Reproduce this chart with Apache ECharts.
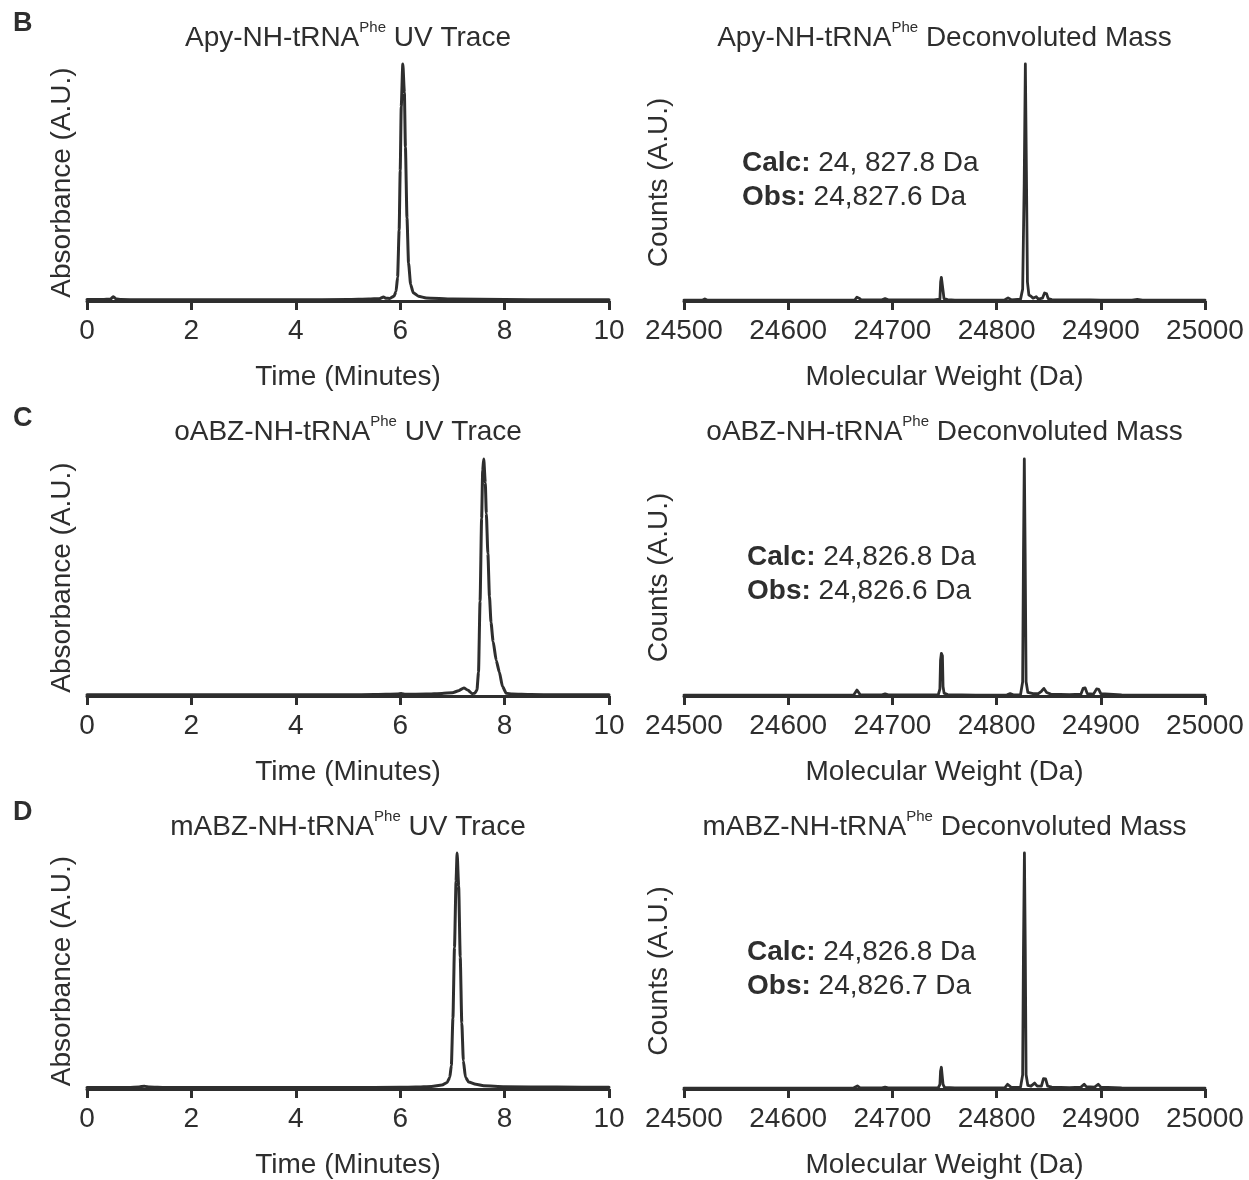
<!DOCTYPE html>
<html><head><meta charset="utf-8">
<script src="https://cdn.jsdelivr.net/npm/echarts@6/dist/echarts.min.js"></script>
<style>html,body{margin:0;padding:0;background:#fff}#c{width:1249px;height:1180px}</style>
</head><body><div id="c"></div>
<script>
// ---------- data ----------
const panelLetters = ['B', 'C', 'D'];
const compounds = ['Apy', 'oABZ', 'mABZ'];
const calcMass = ['24, 827.8 Da', '24,826.8 Da', '24,826.8 Da'];
const obsMass = ['24,827.6 Da', '24,826.6 Da', '24,826.7 Da'];
const timeTicks = [0, 2, 4, 6, 8, 10];
const massTicks = [24500, 24600, 24700, 24800, 24900, 25000];

// UV traces: [time (min), absorbance (A.U., % of max)]
const uvApy = [[0,0.6],[0.3,0.6],[0.45,0.8],[0.5,1.8],[0.55,1.0],[0.65,0.6],[1,0.5],[2,0.5],[3,0.5],[4,0.5],[5,0.6],[5.4,0.8],[5.6,1.0],[5.68,1.7],[5.72,1.2],[5.8,1.1],[5.88,2.0],[5.92,4],[5.95,10],[5.98,30],[6.0,55],[6.02,82],[6.05,100],[6.08,88],[6.1,65],[6.13,35],[6.16,16],[6.2,7],[6.25,3.5],[6.35,2],[6.5,1.3],[7,0.8],[8,0.6],[9,0.5],[10,0.5]];
const uvOABZ = [[0,0.5],[1,0.5],[2,0.5],[3,0.5],[4,0.5],[5,0.5],[5.5,0.6],[5.95,0.8],[6.02,1.1],[6.1,0.7],[6.5,0.8],[6.8,1.1],[7.0,1.4],[7.12,2.2],[7.22,3.4],[7.3,2.4],[7.38,1.0],[7.43,1.2],[7.47,2.5],[7.5,10],[7.53,40],[7.56,75],[7.58,95],[7.6,100],[7.63,90],[7.65,77],[7.68,60],[7.71,42],[7.74,31],[7.78,23],[7.84,15],[7.9,10],[7.96,4],[8.03,1.2],[8.15,0.8],[8.5,0.6],[9,0.5],[10,0.5]];
const uvMABZ = [[0,0.6],[0.8,0.6],[1.0,0.9],[1.1,1.2],[1.2,0.8],[1.5,0.6],[3,0.6],[5,0.6],[6.0,0.7],[6.3,0.8],[6.6,1.1],[6.8,1.7],[6.9,2.8],[6.95,5],[6.98,10],[7.01,30],[7.04,60],[7.07,88],[7.09,100],[7.12,86],[7.15,56],[7.18,28],[7.21,12],[7.25,5],[7.31,3],[7.45,2],[7.6,1.4],[8,1],[9,0.8],[10,0.7]];

// Deconvoluted mass spectra: [molecular weight (Da), counts (% of max)]
const msApy = [[24500,0.4],[24518,0.4],[24520,0.9],[24522,0.4],[24580,0.4],[24640,0.4],[24664,0.5],[24666,1.6],[24668,1.2],[24670,0.5],[24690,0.5],[24693,1.0],[24696,0.5],[24740,0.5],[24745.6,0.8],[24746.3,8],[24747,10],[24748,10],[24748.7,4],[24749.5,1],[24753,0.6],[24760,0.4],[24790,0.4],[24808,0.5],[24811,1.3],[24814,0.5],[24823,0.8],[24825,5],[24826.5,50],[24827.6,100],[24828.6,55],[24829.6,8],[24831,2.5],[24833,2],[24835,1.2],[24838,1.8],[24840,0.8],[24844,1.2],[24846,3.4],[24848,3],[24849.5,1],[24853,0.6],[24870,0.5],[24890,0.5],[24900,0.4],[24930,0.4],[24935,0.7],[24940,0.4],[25000,0.4]];
const msOABZ = [[24500,0.4],[24560,0.4],[24663,0.5],[24666,2.5],[24669,0.6],[24690,0.5],[24693,0.9],[24696,0.5],[24744,0.5],[24745.6,3],[24746.2,15],[24747,18],[24748,17],[24748.6,4],[24749.6,1.2],[24753,0.6],[24780,0.4],[24810,0.5],[24813,1],[24816,0.5],[24823,0.6],[24825,6],[24825.8,60],[24826.6,100],[24827.4,60],[24828.3,6],[24830,1.5],[24835,1],[24840,1],[24843,2],[24845.4,3.2],[24848,1.5],[24852,0.8],[24870,0.6],[24881,0.8],[24883,3.2],[24885,3.4],[24887,1],[24893,0.8],[24896,3],[24898,2.8],[24900,1],[24920,0.5],[25000,0.4]];
const msMABZ = [[24500,0.4],[24600,0.4],[24663,0.5],[24666.4,1.3],[24669,0.5],[24690,0.5],[24693,0.8],[24696,0.5],[24744,0.5],[24745.6,2],[24746.2,7.5],[24747,9.2],[24748,8.8],[24748.6,2],[24750,0.7],[24760,0.5],[24808,0.6],[24810.5,2],[24812,2.1],[24814,0.7],[24823,0.8],[24825,6],[24825.8,60],[24826.7,100],[24827.5,60],[24828.3,6],[24830,1.5],[24833,1.2],[24836.5,2.5],[24839,1.2],[24843,1.2],[24845,4.4],[24847,4.3],[24849,1.2],[24853,0.8],[24870,0.6],[24881,0.8],[24884,2],[24886,1],[24894,0.8],[24897.5,2],[24900,0.8],[24920,0.5],[25000,0.4]];

const uvData = [uvApy, uvOABZ, uvMABZ];
const msData = [msApy, msOABZ, msMABZ];

// ---------- layout ----------
const INK = '#2e2e2e';
const FONT = '"Liberation Sans", Arial, Helvetica, sans-serif';
const rowBottoms = [301, 696, 1090];
const plotH = 237;
const leftGrid = {left: 87, width: 522};
const rightGrid = {left: 684, width: 521};

const grids = [], xAxes = [], yAxes = [], series = [], graphics = [];

function axisX(gi, min, max, interval, name) {
  return {
    type: 'value', gridIndex: gi, min: min, max: max, interval: interval,
    name: name, nameLocation: 'middle', nameGap: 62,
    nameTextStyle: {fontFamily: FONT, fontSize: 28, color: INK},
    axisLine: {show: true, onZero: false, lineStyle: {color: INK, width: 3}},
    axisTick: {show: true, inside: false, length: 9, lineStyle: {color: INK, width: 3}},
    axisLabel: {fontFamily: FONT, fontSize: 28, color: INK, margin: 16,
      formatter: function (v) { return String(v); }},
    splitLine: {show: false}
  };
}
function axisY(gi, name) {
  return {
    type: 'value', gridIndex: gi, min: 0, max: 100,
    name: name, nameLocation: 'middle', nameGap: 11,
    nameTextStyle: {fontFamily: FONT, fontSize: 28, color: INK},
    axisLine: {show: false}, axisTick: {show: false}, axisLabel: {show: false},
    splitLine: {show: false}
  };
}
function titleText(cx, cy, compound, suffix) {
  return {
    type: 'text', x: cx, y: cy, silent: true,
    style: {
      text: '{m|' + compound + '-NH-tRNA}{s|Phe}{m| ' + suffix + '}',
      textAlign: 'center', textVerticalAlign: 'middle',
      rich: {
        m: {fontFamily: FONT, fontSize: 28, fill: INK, color: INK, lineHeight: 32, verticalAlign: 'bottom'},
        s: {fontFamily: FONT, fontSize: 15, fill: INK, color: INK, lineHeight: 28, verticalAlign: 'top'}
      }
    }
  };
}

for (let r = 0; r < 3; r++) {
  const bottomPx = rowBottoms[r];
  const topPx = bottomPx - plotH;
  grids.push({left: leftGrid.left, width: leftGrid.width, top: topPx, height: plotH});
  grids.push({left: rightGrid.left, width: rightGrid.width, top: topPx, height: plotH});
  const gL = 2 * r, gR = 2 * r + 1;
  xAxes.push(axisX(gL, timeTicks[0], timeTicks[timeTicks.length - 1], timeTicks[1] - timeTicks[0], 'Time (Minutes)'));
  xAxes.push(axisX(gR, massTicks[0], massTicks[massTicks.length - 1], massTicks[1] - massTicks[0], 'Molecular Weight (Da)'));
  yAxes.push(axisY(gL, 'Absorbance (A.U.)'));
  yAxes.push(axisY(gR, 'Counts (A.U.)'));
  const ls = {color: INK, width: 3, join: 'round', cap: 'round'};
  series.push({type: 'line', xAxisIndex: gL, yAxisIndex: gL, data: uvData[r], showSymbol: false, symbol: 'none', smooth: 0.2, smoothMonotone: 'x', clip: false, lineStyle: ls, itemStyle: {color: INK}, silent: true, animation: false});
  series.push({type: 'line', xAxisIndex: gR, yAxisIndex: gR, data: msData[r], showSymbol: false, symbol: 'none', smooth: false, clip: false, lineStyle: Object.assign({}, ls, {width: 2.8}), itemStyle: {color: INK}, silent: true, animation: false});

  const off = r * 394.5;
  graphics.push({type: 'text', x: 13, y: 24 + off, silent: true,
    style: {text: panelLetters[r], font: 'bold 27px ' + FONT, fill: INK, textAlign: 'left', textVerticalAlign: 'middle'}});
  graphics.push(titleText(leftGrid.left + leftGrid.width / 2, 36 + off, compounds[r], 'UV Trace'));
  graphics.push(titleText(rightGrid.left + rightGrid.width / 2, 36 + off, compounds[r], 'Deconvoluted Mass'));
  const ax = r === 0 ? 742 : 747;
  const rich = {
    b: {fontFamily: FONT, fontSize: 28, fontWeight: 'bold', fill: INK, color: INK},
    n: {fontFamily: FONT, fontSize: 28, fill: INK, color: INK}
  };
  graphics.push({type: 'text', x: ax, y: 163 + off, silent: true,
    style: {text: '{b|Calc:}{n| ' + calcMass[r] + '}', rich: rich, textAlign: 'left', textVerticalAlign: 'middle'}});
  graphics.push({type: 'text', x: ax, y: 197 + off, silent: true,
    style: {text: '{b|Obs:}{n| ' + obsMass[r] + '}', rich: rich, textAlign: 'left', textVerticalAlign: 'middle'}});
}

const chart = echarts.init(document.getElementById('c'), null, {renderer: 'canvas'});
chart.setOption({
  backgroundColor: '#ffffff',
  animation: false,
  grid: grids, xAxis: xAxes, yAxis: yAxes, series: series,
  graphic: graphics
});
</script></body></html>
